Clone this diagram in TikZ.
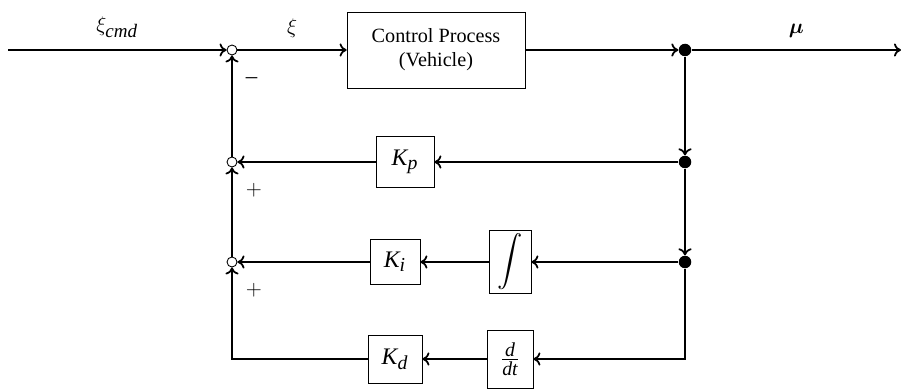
\documentclass[tikz,border=0pt]{standalone}
\usepackage{fontspec}
\setmainfont{Liberation Serif}
\usepackage{amsmath,bm}
\usepackage[italic]{mathastext}
\usetikzlibrary{positioning, arrows.meta, calc}

\begin{document}
\begin{tikzpicture}[
    font=\fontsize{11.5}{13.5}\selectfont,
    block/.style={draw, fill=white, align=center, inner sep=2pt},
    gain/.style={block, font=\fontsize{13.5}{15}\selectfont},
    sumpt/.style={draw, circle, fill=white, inner sep=0pt, minimum size=0.2cm, line width=0.5pt},
    joint/.style={circle, fill=black, inner sep=0pt, minimum size=0.25cm},
    arrow/.style={-{To[length=4pt,width=7.5pt]}, line width=1pt},
    sign/.style={font=\fontsize{13}{15}\selectfont},
    sig/.style={above=3pt, font=\fontsize{13}{15}\selectfont}
]
    \useasboundingbox (0,0) rectangle (18.02,7.76);

    % Forward path
    \coordinate (in) at (0.16,6.76);
    \node[sumpt] (S1) at (4.64,6.76) {};
    \node[block, minimum width=3.56cm, minimum height=1.52cm] (plant) at (8.72,6.76) {Control Process\\(Vehicle)};
    \node[joint] (J1) at (13.7,6.76) {};
    \coordinate (out) at (18.02,6.76);

    % Feedback summing points and pick-off points
    \node[sumpt] (S2) at (4.64,4.52) {};
    \node[sumpt] (S3) at (4.64,2.52) {};
    \node[joint] (J2) at (13.7,4.52) {};
    \node[joint] (J3) at (13.7,2.52) {};

    % Gain blocks
    \node[gain, minimum width=1.16cm, minimum height=1.02cm] (Kp) at (8.1,4.52) {$K_p$};
    \node[gain, minimum width=1.0cm, minimum height=0.9cm] (Ki) at (7.9,2.52) {$K_i$};
    \node[gain, minimum width=0.84cm, minimum height=1.12cm] (int) at (10.2,2.52) {$\displaystyle\int$};
    \node[gain, minimum width=1.08cm, minimum height=0.96cm] (Kd) at (7.9,0.58) {$K_d$};
    \node[gain, minimum width=0.92cm, minimum height=1.16cm] (ddt) at (10.2,0.58) {$\frac{d}{dt}$};

    % Forward connections
    \draw[arrow] (in) -- node[sig] {$\xi_{cmd}$} (S1);
    \draw[arrow] (S1) -- node[sig] {$\xi$} (plant);
    \draw[arrow] (plant) -- (J1);
    \draw[arrow] (J1) -- node[sig] {$\bm{\mu}$} (out);

    % Pick-offs
    \draw[arrow] (J1) -- (J2);
    \draw[arrow] (J2) -- (J3);

    % Proportional, integral and derivative branches
    \draw[arrow] (J2) -- (Kp);
    \draw[arrow] (Kp) -- (S2);
    \draw[arrow] (J3) -- (int);
    \draw[arrow] (int) -- (Ki);
    \draw[arrow] (Ki) -- (S3);
    \draw[arrow] (J3) |- (ddt);
    \draw[arrow] (ddt) -- (Kd);
    \draw[arrow] (Kd) -| node[pos=0.875, right=4pt, sign] {$+$} (S3);

    % Summing chain
    \draw[arrow] (S3) -- node[pos=0.74, right=4pt, sign] {$+$} (S2);
    \draw[arrow] (S2) -- node[pos=0.75, right=4pt, sign] {$-$} (S1);

\end{tikzpicture}
\end{document}
